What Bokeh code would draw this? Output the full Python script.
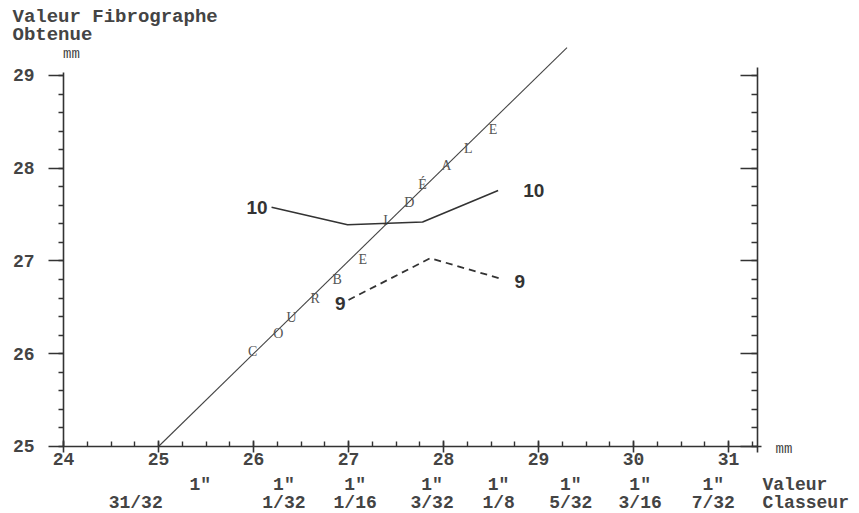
import numpy as np
from bokeh.plotting import figure
from bokeh.models import Range1d, LinearAxis, FixedTicker
from bokeh.core.properties import value
from bokeh.embed import file_html
from bokeh.resources import INLINE

# ---------------- data ----------------
# ideal curve (Fibrograph value == classer value)
ideal_x = [25.0, 29.3]
ideal_y = [25.0, 29.3]
ideal_letters = ["C", "O", "U", "R", "B", "E", "I", "D", "É", "A", "L", "E"]
letters_x = [25.99, 26.26, 26.40, 26.65, 26.88, 27.15, 27.39, 27.64, 27.78, 28.03, 28.26, 28.52]
letters_y = [26.02, 26.22, 26.39, 26.60, 26.80, 27.02, 27.44, 27.63, 27.82, 28.03, 28.21, 28.42]

# series "10" (solid) and "9" (dashed)
s10_x = [26.19, 26.99, 27.78, 28.575]
s10_y = [27.58, 27.39, 27.42, 27.76]
s9_x = [27.0, 27.86, 28.6]
s9_y = [26.58, 27.03, 26.81]

# axes ticks
x_ticks = [24, 25, 26, 27, 28, 29, 30, 31]
y_ticks = [25, 26, 27, 28, 29]

# classer (inch) labels
inch_pos = [24.76, 25.44, 26.32, 27.07, 27.88, 28.58, 29.34, 30.07, 30.84]
inch_top = ["", '1"', '1"', '1"', '1"', '1"', '1"', '1"', '1"']
inch_bottom = ["31/32", "", "1/32", "1/16", "3/32", "1/8", "5/32", "3/16", "7/32"]

# ---------------- figure ----------------
INK = "#333333"
TXT = "#444444"
MONO = "Liberation Mono"

p = figure(width=859, height=513,
           x_range=Range1d(23.3368, 32.3789), y_range=Range1d(24.2776, 29.8086),
           x_axis_type=None, y_axis_type=None,
           output_backend="svg", toolbar_location=None,
           min_border=0, min_border_left=0, min_border_right=0,
           min_border_top=0, min_border_bottom=0)
p.outline_line_color = None
p.background_fill_color = "white"


def style_axis(ax):
    ax.axis_line_color = INK
    ax.axis_line_width = 1.6
    ax.major_tick_line_color = INK
    ax.major_tick_line_width = 1.6
    ax.minor_tick_line_color = INK
    ax.minor_tick_line_width = 1.4
    ax.major_label_text_font = MONO
    ax.major_label_text_font_size = "18px"
    ax.major_label_text_font_style = "bold"
    ax.major_label_text_color = TXT


# bottom axis
xminor = [float(v) for v in np.arange(24.0, 31.3, 0.25)]
xaxis = LinearAxis(fixed_location=25, bounds=(24, 31.35),
                   ticker=FixedTicker(ticks=x_ticks, minor_ticks=xminor))
style_axis(xaxis)
xaxis.major_tick_in = 6
xaxis.major_tick_out = 6
xaxis.minor_tick_in = 5
xaxis.minor_tick_out = 0
xaxis.major_label_standoff = 1
p.add_layout(xaxis, "below")

# left axis
yminor = [float(v) for v in np.arange(25.0, 29.01, 0.2)]
yaxis = LinearAxis(fixed_location=24, bounds=(25, 29.03),
                   ticker=FixedTicker(ticks=y_ticks, minor_ticks=yminor))
style_axis(yaxis)
yaxis.major_tick_in = 0
yaxis.major_tick_out = 15
yaxis.minor_tick_in = 0
yaxis.minor_tick_out = 5
yaxis.major_label_standoff = 14
p.add_layout(yaxis, "left")

# right axis (no labels)
raxis = LinearAxis(fixed_location=31.3, bounds=(24.94, 29.09),
                   ticker=FixedTicker(ticks=y_ticks, minor_ticks=yminor))
style_axis(raxis)
raxis.major_tick_in = 17
raxis.major_tick_out = 0
raxis.minor_tick_in = 6
raxis.minor_tick_out = 0
raxis.major_label_text_color = None
p.add_layout(raxis, "right")

# ideal line and its letters
p.line(ideal_x, ideal_y, line_color="#444444", line_width=1.1)
p.text(letters_x, letters_y, text=ideal_letters,
       text_font=value("Liberation Serif"), text_font_size="14px",
       text_color="#555555", text_align="center", text_baseline="middle")

# series lines
p.line(s10_x, s10_y, line_color=INK, line_width=1.6)
p.line(s9_x, s9_y, line_color=INK, line_width=1.8, line_dash="7 5")

NUMF = value("Liberation Sans")
num_kw = dict(text_font=NUMF, text_font_size="19px", text_font_style="bold",
              text_color=INK, text_baseline="middle")
p.text([s10_x[0]], [s10_y[0]], text=["10"], x_offset=-4, y_offset=0,
       text_align="right", **num_kw)
p.text([s10_x[-1]], [s10_y[-1]], text=["10"], x_offset=25, y_offset=0,
       text_align="left", **num_kw)
p.text([s9_x[0]], [s9_y[0]], text=["9"], x_offset=-3, y_offset=4,
       text_align="right", **num_kw)
p.text([s9_x[-1]], [s9_y[-1]], text=["9"], x_offset=14, y_offset=3,
       text_align="left", **num_kw)

# classer inch labels (two rows)
ROW1_Y = 24.59
ROW2_Y = 24.396
mono_kw = dict(text_font=value(MONO), text_font_size="18px", text_font_style="bold",
               text_color=TXT, text_baseline="middle")
p.text(inch_pos, [ROW1_Y] * len(inch_pos), text=inch_top, text_align="center", **mono_kw)
p.text(inch_pos, [ROW2_Y] * len(inch_pos), text=inch_bottom, text_align="center", **mono_kw)
p.text([31.358, 31.358], [ROW1_Y, ROW2_Y], text=["Valeur", "Classeur"],
       text_align="left", **mono_kw)

# header (y axis title) and units
p.text([23.463, 23.463], [29.636, 29.442], text=["Valeur Fibrographe", "Obtenue"],
       text_align="left", text_font=value(MONO), text_font_size="19px",
       text_font_style="bold", text_color=TXT, text_baseline="middle")
p.text([24.084], [29.237], text=["mm"], text_align="center",
       text_font=value(MONO), text_font_size="14px", text_color=TXT,
       text_baseline="middle")
p.text([31.495], [24.968], text=["mm"], text_align="left",
       text_font=value(MONO), text_font_size="14px", text_color=TXT,
       text_baseline="middle")

open("out.html", "w").write(file_html(p, INLINE))
